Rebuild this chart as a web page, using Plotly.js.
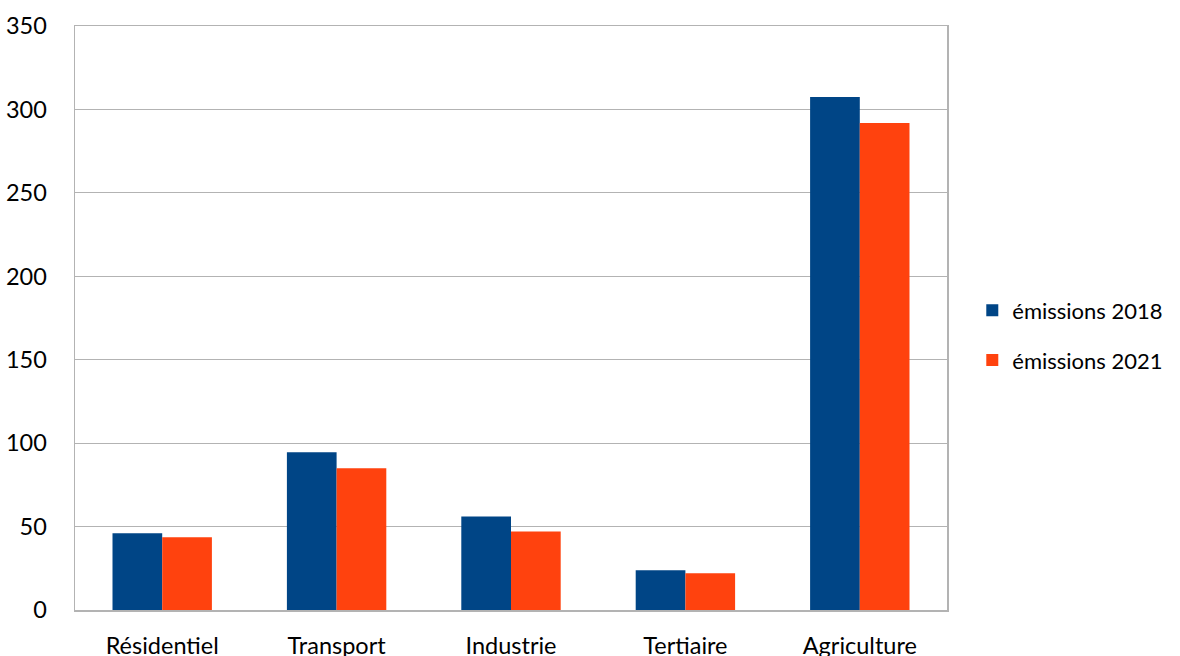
<!DOCTYPE html>
<html>
<head>
<meta charset="utf-8">
<script src="https://cdn.plot.ly/plotly-3.0.1.min.js"></script>
<style>html,body{margin:0;padding:0;background:#fff;}#chart{width:1180px;height:656px;}</style>
</head>
<body>
<div id="chart"></div>
<script>
const categories = ["Résidentiel", "Transport", "Industrie", "Tertiaire", "Agriculture"];
const seriesNames = ["émissions 2018", "émissions 2021"];
const emissions2018 = [46.0, 94.6, 56.0, 23.8, 307.4];
const emissions2021 = [43.6, 85.0, 47.0, 22.0, 291.8];
const yTicks = [0, 50, 100, 150, 200, 250, 300, 350];

const FONT = "Lato, 'Open Sans', sans-serif";
const traces = [
  {type: "bar", name: seriesNames[0], x: categories, y: emissions2018,
   marker: {color: "#004586"}, legendgroup: "a", hoverinfo: "x+y"},
  {type: "bar", name: seriesNames[1], x: categories, y: emissions2021,
   marker: {color: "#ff420e"}, legendgroup: "b", hoverinfo: "x+y"}
];
const layout = {
  width: 1180, height: 656,
  margin: {l: 75, r: 233, t: 26, b: 46, pad: 0},
  paper_bgcolor: "#fff", plot_bgcolor: "#fff",
  font: {family: FONT, size: 23.5, color: "#000"},
  barmode: "group", bargap: 0.43, bargroupgap: 0,
  showlegend: true,
  legend: {x: 1.029, y: 0.47, xanchor: "left", yanchor: "middle",
           traceorder: "grouped", tracegroupgap: 18,
           font: {family: FONT, size: 22, color: "#000"}, bgcolor: "rgba(0,0,0,0)"},
  xaxis: {type: "category", showline: true, mirror: true, linecolor: "#b3b3b3", linewidth: 1.5,
          ticks: "", showgrid: false, ticklabelstandoff: 14, fixedrange: true},
  yaxis: {range: [0, 350], tickvals: yTicks, ticktext: yTicks.map(String),
          showline: true, mirror: true, linecolor: "#b3b3b3", linewidth: 1.5,
          showgrid: true, gridcolor: "#b3b3b3", gridwidth: 1, zeroline: false,
          ticks: "", ticklabelstandoff: 22, fixedrange: true}
};
Plotly.newPlot("chart", traces, layout, {displayModeBar: false, staticPlot: true});
</script>
</body>
</html>
